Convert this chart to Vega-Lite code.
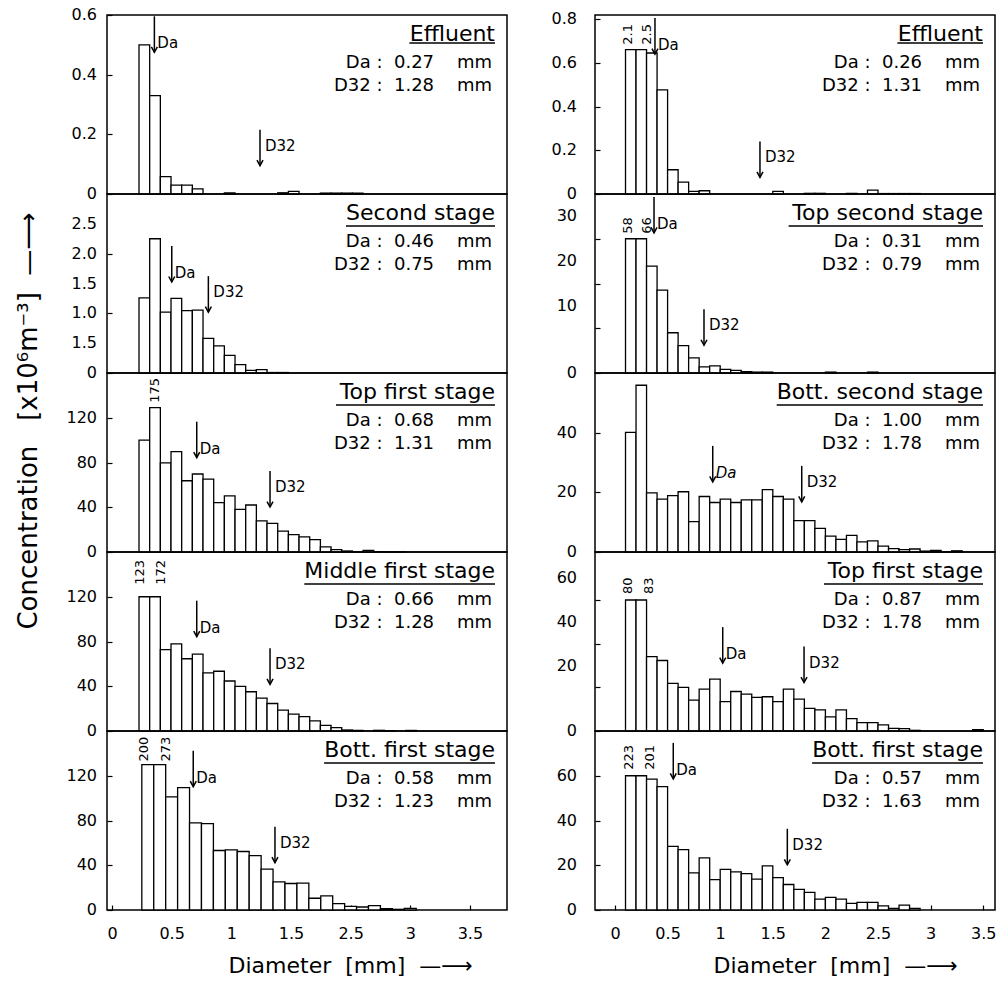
{
"$schema":"https://vega.github.io/schema/vega-lite/v6.json",
"padding":{"left":14,"top":6,"right":2,"bottom":2},
"config":{"font":"DejaVu Sans","view":{"stroke":"black","strokeWidth":1.5},"mark":{"color":"black"},
"axis":{"domain":false,"grid":false,"ticks":true,"tickSize":-5,"tickColor":"black","tickWidth":1.2,"labelFontSize":16,"labelColor":"black","labelFont":"DejaVu Sans","titleFont":"DejaVu Sans","titleFontSize":22,"titleFontWeight":"normal","titleColor":"black","labelFlush":false,"labelOverlap":false,"labelBound":false},
"axisX":{"labelPadding":20}},
"datasets":{
"yticks":[
{"p":"L1","v":0,"lab":"0"},{"p":"L1","v":0.2,"lab":"0.2"},{"p":"L1","v":0.4,"lab":"0.4"},{"p":"L1","v":0.6,"lab":"0.6"},
{"p":"L2","v":0,"lab":"0"},{"p":"L2","v":0.5,"lab":"1.5"},{"p":"L2","v":1,"lab":"1.0"},{"p":"L2","v":1.5,"lab":"1.5"},{"p":"L2","v":2,"lab":"2.0"},{"p":"L2","v":2.5,"lab":"2.5"},
{"p":"L3","v":0,"lab":"0"},{"p":"L3","v":40,"lab":"40"},{"p":"L3","v":80,"lab":"80"},{"p":"L3","v":120,"lab":"120"},
{"p":"L4","v":0,"lab":"0"},{"p":"L4","v":40,"lab":"40"},{"p":"L4","v":80,"lab":"80"},{"p":"L4","v":120,"lab":"120"},
{"p":"L5","v":0,"lab":"0"},{"p":"L5","v":40,"lab":"40"},{"p":"L5","v":80,"lab":"80"},{"p":"L5","v":120,"lab":"120"},
{"p":"R1","v":0,"lab":"0"},{"p":"R1","v":0.2,"lab":"0.2"},{"p":"R1","v":0.4,"lab":"0.4"},{"p":"R1","v":0.6,"lab":"0.6"},{"p":"R1","v":0.8,"lab":"0.8"},
{"p":"R2","v":0,"lab":"0"},{"p":"R2","v":15,"lab":"10"},{"p":"R2","v":25,"lab":"20"},{"p":"R2","v":35,"lab":"30"},
{"p":"R3","v":0,"lab":"0"},{"p":"R3","v":20,"lab":"20"},{"p":"R3","v":40,"lab":"40"},
{"p":"R4","v":0,"lab":"0"},{"p":"R4","v":30,"lab":"20"},{"p":"R4","v":50,"lab":"40"},{"p":"R4","v":70,"lab":"60"},
{"p":"R5","v":0,"lab":"0"},{"p":"R5","v":20,"lab":"20"},{"p":"R5","v":40,"lab":"40"},{"p":"R5","v":60,"lab":"60"}
],
"bars":[
{"p":"L1","x0":0.1,"x1":0.2,"c":0.5},{"p":"L1","x0":0.2,"x1":0.3,"c":0.33},{"p":"L1","x0":0.3,"x1":0.4,"c":0.058},{"p":"L1","x0":0.4,"x1":0.5,"c":0.03},{"p":"L1","x0":0.5,"x1":0.6,"c":0.03},{"p":"L1","x0":0.6,"x1":0.7,"c":0.017},{"p":"L1","x0":0.9,"x1":1.0,"c":0.004},{"p":"L1","x0":1.4,"x1":1.5,"c":0.004},{"p":"L1","x0":1.5,"x1":1.6,"c":0.009},{"p":"L1","x0":1.8,"x1":1.9,"c":0.003},{"p":"L1","x0":1.9,"x1":2.0,"c":0.003},{"p":"L1","x0":2.0,"x1":2.1,"c":0.003},{"p":"L1","x0":2.1,"x1":2.2,"c":0.003},
{"p":"L2","x0":0.1,"x1":0.2,"c":1.26},{"p":"L2","x0":0.2,"x1":0.3,"c":2.25},{"p":"L2","x0":0.3,"x1":0.4,"c":1.02},{"p":"L2","x0":0.4,"x1":0.5,"c":1.25},{"p":"L2","x0":0.5,"x1":0.6,"c":1.045},{"p":"L2","x0":0.6,"x1":0.7,"c":1.055},{"p":"L2","x0":0.7,"x1":0.8,"c":0.58},{"p":"L2","x0":0.8,"x1":0.9,"c":0.455},{"p":"L2","x0":0.9,"x1":1.0,"c":0.295},{"p":"L2","x0":1.0,"x1":1.1,"c":0.14},{"p":"L2","x0":1.1,"x1":1.2,"c":0.045},{"p":"L2","x0":1.2,"x1":1.3,"c":0.055},{"p":"L2","x0":1.3,"x1":1.4,"c":0.008},{"p":"L2","x0":1.4,"x1":1.5,"c":0.008},
{"p":"L3","x0":0.1,"x1":0.2,"c":100},{"p":"L3","x0":0.2,"x1":0.3,"c":129,"n":"175"},{"p":"L3","x0":0.3,"x1":0.4,"c":79.6},{"p":"L3","x0":0.4,"x1":0.5,"c":89.8},{"p":"L3","x0":0.5,"x1":0.6,"c":63.7},{"p":"L3","x0":0.6,"x1":0.7,"c":69.7},{"p":"L3","x0":0.7,"x1":0.8,"c":65.2},{"p":"L3","x0":0.8,"x1":0.9,"c":44.1},{"p":"L3","x0":0.9,"x1":1.0,"c":50.2},{"p":"L3","x0":1.0,"x1":1.1,"c":38.1},{"p":"L3","x0":1.1,"x1":1.2,"c":42},{"p":"L3","x0":1.2,"x1":1.3,"c":27.9},{"p":"L3","x0":1.3,"x1":1.4,"c":25.5},{"p":"L3","x0":1.4,"x1":1.5,"c":18.6},{"p":"L3","x0":1.5,"x1":1.6,"c":15.6},{"p":"L3","x0":1.6,"x1":1.7,"c":13.5},{"p":"L3","x0":1.7,"x1":1.8,"c":11.1},{"p":"L3","x0":1.8,"x1":1.9,"c":4.5},{"p":"L3","x0":1.9,"x1":2.0,"c":2.1},{"p":"L3","x0":2.0,"x1":2.1,"c":0.9},{"p":"L3","x0":2.1,"x1":2.2,"c":0.3},{"p":"L3","x0":2.2,"x1":2.3,"c":1.5},{"p":"L3","x0":2.3,"x1":2.4,"c":0.3},{"p":"L3","x0":2.4,"x1":2.5,"c":0.2},{"p":"L3","x0":2.5,"x1":2.6,"c":0.2},
{"p":"L4","x0":0.1,"x1":0.2,"c":120,"n":"123"},{"p":"L4","x0":0.2,"x1":0.3,"c":120,"n":"172"},{"p":"L4","x0":0.3,"x1":0.4,"c":72.7},{"p":"L4","x0":0.4,"x1":0.5,"c":77.8},{"p":"L4","x0":0.5,"x1":0.6,"c":64.6},{"p":"L4","x0":0.6,"x1":0.7,"c":68.8},{"p":"L4","x0":0.7,"x1":0.8,"c":52},{"p":"L4","x0":0.8,"x1":0.9,"c":53.4},{"p":"L4","x0":0.9,"x1":1.0,"c":44.7},{"p":"L4","x0":1.0,"x1":1.1,"c":39.9},{"p":"L4","x0":1.1,"x1":1.2,"c":35.1},{"p":"L4","x0":1.2,"x1":1.3,"c":29.4},{"p":"L4","x0":1.3,"x1":1.4,"c":24.6},{"p":"L4","x0":1.4,"x1":1.5,"c":18.6},{"p":"L4","x0":1.5,"x1":1.6,"c":15},{"p":"L4","x0":1.6,"x1":1.7,"c":12.9},{"p":"L4","x0":1.7,"x1":1.8,"c":9},{"p":"L4","x0":1.8,"x1":1.9,"c":5.1},{"p":"L4","x0":1.9,"x1":2.0,"c":3},{"p":"L4","x0":2.0,"x1":2.1,"c":0.9},{"p":"L4","x0":2.1,"x1":2.2,"c":0.6},{"p":"L4","x0":2.3,"x1":2.4,"c":0.6},{"p":"L4","x0":2.4,"x1":2.5,"c":0.3},{"p":"L4","x0":2.6,"x1":2.7,"c":0.5},
{"p":"L5","x0":0.25,"x1":0.35,"c":130,"n":"200"},{"p":"L5","x0":0.35,"x1":0.45,"c":130,"n":"273"},{"p":"L5","x0":0.45,"x1":0.55,"c":101.2},{"p":"L5","x0":0.55,"x1":0.65,"c":109.3},{"p":"L5","x0":0.65,"x1":0.75,"c":77.8},{"p":"L5","x0":0.75,"x1":0.85,"c":77.2},{"p":"L5","x0":0.85,"x1":0.95,"c":53.2},{"p":"L5","x0":0.95,"x1":1.05,"c":53.8},{"p":"L5","x0":1.05,"x1":1.15,"c":52.3},{"p":"L5","x0":1.15,"x1":1.25,"c":48.6},{"p":"L5","x0":1.25,"x1":1.35,"c":36.6},{"p":"L5","x0":1.35,"x1":1.45,"c":25.2},{"p":"L5","x0":1.45,"x1":1.55,"c":23.7},{"p":"L5","x0":1.55,"x1":1.65,"c":24},{"p":"L5","x0":1.65,"x1":1.75,"c":10.5},{"p":"L5","x0":1.75,"x1":1.85,"c":12.6},{"p":"L5","x0":1.85,"x1":1.95,"c":5.7},{"p":"L5","x0":1.95,"x1":2.05,"c":3.3},{"p":"L5","x0":2.05,"x1":2.15,"c":2.7},{"p":"L5","x0":2.15,"x1":2.25,"c":3.9},{"p":"L5","x0":2.25,"x1":2.35,"c":1.2},{"p":"L5","x0":2.35,"x1":2.45,"c":0.6},{"p":"L5","x0":2.45,"x1":2.55,"c":1.5},
{"p":"R1","x0":0.1,"x1":0.2,"c":0.661,"n":"2.1"},{"p":"R1","x0":0.2,"x1":0.3,"c":0.661,"n":"2.5"},{"p":"R1","x0":0.3,"x1":0.4,"c":0.646},{"p":"R1","x0":0.4,"x1":0.5,"c":0.477},{"p":"R1","x0":0.5,"x1":0.6,"c":0.111},{"p":"R1","x0":0.6,"x1":0.7,"c":0.054},{"p":"R1","x0":0.7,"x1":0.8,"c":0.012},{"p":"R1","x0":0.8,"x1":0.9,"c":0.015},{"p":"R1","x0":1.5,"x1":1.6,"c":0.012},{"p":"R1","x0":1.8,"x1":1.9,"c":0.003},{"p":"R1","x0":1.9,"x1":2.0,"c":0.003},{"p":"R1","x0":2.2,"x1":2.3,"c":0.003},{"p":"R1","x0":2.4,"x1":2.5,"c":0.018},{"p":"R1","x0":2.5,"x1":2.6,"c":0.002},{"p":"R1","x0":2.6,"x1":2.7,"c":0.002},{"p":"R1","x0":2.7,"x1":2.8,"c":0.002},{"p":"R1","x0":2.8,"x1":2.9,"c":0.002},
{"p":"R2","x0":0.1,"x1":0.2,"c":30,"n":"58"},{"p":"R2","x0":0.2,"x1":0.3,"c":30,"n":"66"},{"p":"R2","x0":0.3,"x1":0.4,"c":23.9},{"p":"R2","x0":0.4,"x1":0.5,"c":18.5},{"p":"R2","x0":0.5,"x1":0.6,"c":9.0},{"p":"R2","x0":0.6,"x1":0.7,"c":6.1},{"p":"R2","x0":0.7,"x1":0.8,"c":3.4},{"p":"R2","x0":0.8,"x1":0.9,"c":1.35},{"p":"R2","x0":0.9,"x1":1.0,"c":1.6},{"p":"R2","x0":1.0,"x1":1.1,"c":0.8},{"p":"R2","x0":1.1,"x1":1.2,"c":0.6},{"p":"R2","x0":1.2,"x1":1.3,"c":0.3},{"p":"R2","x0":1.3,"x1":1.4,"c":0.2},{"p":"R2","x0":1.4,"x1":1.5,"c":0.2},{"p":"R2","x0":2.0,"x1":2.1,"c":0.2},{"p":"R2","x0":2.4,"x1":2.5,"c":0.2},
{"p":"R3","x0":0.1,"x1":0.2,"c":40.1},{"p":"R3","x0":0.2,"x1":0.3,"c":55.9},{"p":"R3","x0":0.3,"x1":0.4,"c":19.8},{"p":"R3","x0":0.4,"x1":0.5,"c":17.7},{"p":"R3","x0":0.5,"x1":0.6,"c":18.9},{"p":"R3","x0":0.6,"x1":0.7,"c":20.2},{"p":"R3","x0":0.7,"x1":0.8,"c":10.2},{"p":"R3","x0":0.8,"x1":0.9,"c":18.6},{"p":"R3","x0":0.9,"x1":1.0,"c":16.6},{"p":"R3","x0":1.0,"x1":1.1,"c":17.7},{"p":"R3","x0":1.1,"x1":1.2,"c":16.6},{"p":"R3","x0":1.2,"x1":1.3,"c":17.5},{"p":"R3","x0":1.3,"x1":1.4,"c":17.5},{"p":"R3","x0":1.4,"x1":1.5,"c":20.9},{"p":"R3","x0":1.5,"x1":1.6,"c":18.6},{"p":"R3","x0":1.6,"x1":1.7,"c":17.7},{"p":"R3","x0":1.7,"x1":1.8,"c":10.5},{"p":"R3","x0":1.8,"x1":1.9,"c":10.5},{"p":"R3","x0":1.9,"x1":2.0,"c":7.9},{"p":"R3","x0":2.0,"x1":2.1,"c":5.3},{"p":"R3","x0":2.1,"x1":2.2,"c":4.2},{"p":"R3","x0":2.2,"x1":2.3,"c":5.6},{"p":"R3","x0":2.3,"x1":2.4,"c":3.4},{"p":"R3","x0":2.4,"x1":2.5,"c":3.7},{"p":"R3","x0":2.5,"x1":2.6,"c":2.0},{"p":"R3","x0":2.6,"x1":2.7,"c":1.1},{"p":"R3","x0":2.7,"x1":2.8,"c":0.8},{"p":"R3","x0":2.8,"x1":2.9,"c":1.0},{"p":"R3","x0":2.9,"x1":3.0,"c":0.3},{"p":"R3","x0":3.0,"x1":3.1,"c":0.5},{"p":"R3","x0":3.1,"x1":3.2,"c":0.1},{"p":"R3","x0":3.2,"x1":3.3,"c":0.4},
{"p":"R4","x0":0.1,"x1":0.2,"c":60,"n":"80"},{"p":"R4","x0":0.2,"x1":0.3,"c":60,"n":"83"},{"p":"R4","x0":0.3,"x1":0.4,"c":34.1},{"p":"R4","x0":0.4,"x1":0.5,"c":32.3},{"p":"R4","x0":0.5,"x1":0.6,"c":21.8},{"p":"R4","x0":0.6,"x1":0.7,"c":20},{"p":"R4","x0":0.7,"x1":0.8,"c":14.1},{"p":"R4","x0":0.8,"x1":0.9,"c":19.2},{"p":"R4","x0":0.9,"x1":1.0,"c":23.8},{"p":"R4","x0":1.0,"x1":1.1,"c":13.5},{"p":"R4","x0":1.1,"x1":1.2,"c":18.1},{"p":"R4","x0":1.2,"x1":1.3,"c":16.9},{"p":"R4","x0":1.3,"x1":1.4,"c":15.4},{"p":"R4","x0":1.4,"x1":1.5,"c":15.7},{"p":"R4","x0":1.5,"x1":1.6,"c":13.5},{"p":"R4","x0":1.6,"x1":1.7,"c":19.2},{"p":"R4","x0":1.7,"x1":1.8,"c":14.6},{"p":"R4","x0":1.8,"x1":1.9,"c":10.4},{"p":"R4","x0":1.9,"x1":2.0,"c":9.7},{"p":"R4","x0":2.0,"x1":2.1,"c":6.5},{"p":"R4","x0":2.1,"x1":2.2,"c":9.7},{"p":"R4","x0":2.2,"x1":2.3,"c":5.7},{"p":"R4","x0":2.3,"x1":2.4,"c":3.8},{"p":"R4","x0":2.4,"x1":2.5,"c":3.8},{"p":"R4","x0":2.5,"x1":2.6,"c":2.8},{"p":"R4","x0":2.6,"x1":2.7,"c":1.2},{"p":"R4","x0":2.7,"x1":2.8,"c":1.1},{"p":"R4","x0":2.8,"x1":2.9,"c":0.3},{"p":"R4","x0":3.4,"x1":3.5,"c":0.6},
{"p":"R5","x0":0.1,"x1":0.2,"c":60,"n":"223"},{"p":"R5","x0":0.2,"x1":0.3,"c":60,"n":"201"},{"p":"R5","x0":0.3,"x1":0.4,"c":58.5},{"p":"R5","x0":0.4,"x1":0.5,"c":55.1},{"p":"R5","x0":0.5,"x1":0.6,"c":28.4},{"p":"R5","x0":0.6,"x1":0.7,"c":27},{"p":"R5","x0":0.7,"x1":0.8,"c":16.6},{"p":"R5","x0":0.8,"x1":0.9,"c":23.3},{"p":"R5","x0":0.9,"x1":1.0,"c":13.6},{"p":"R5","x0":1.0,"x1":1.1,"c":18.2},{"p":"R5","x0":1.1,"x1":1.2,"c":17},{"p":"R5","x0":1.2,"x1":1.3,"c":16.3},{"p":"R5","x0":1.3,"x1":1.4,"c":13.8},{"p":"R5","x0":1.4,"x1":1.5,"c":19.7},{"p":"R5","x0":1.5,"x1":1.6,"c":14.5},{"p":"R5","x0":1.6,"x1":1.7,"c":11.4},{"p":"R5","x0":1.7,"x1":1.8,"c":9.2},{"p":"R5","x0":1.8,"x1":1.9,"c":7.9},{"p":"R5","x0":1.9,"x1":2.0,"c":4.9},{"p":"R5","x0":2.0,"x1":2.1,"c":5.6},{"p":"R5","x0":2.1,"x1":2.2,"c":4.9},{"p":"R5","x0":2.2,"x1":2.3,"c":3.0},{"p":"R5","x0":2.3,"x1":2.4,"c":3.4},{"p":"R5","x0":2.4,"x1":2.5,"c":3.4},{"p":"R5","x0":2.5,"x1":2.6,"c":1.8},{"p":"R5","x0":2.6,"x1":2.7,"c":0.7},{"p":"R5","x0":2.7,"x1":2.8,"c":2.2},{"p":"R5","x0":2.8,"x1":2.9,"c":0.7}
],
"arrows":[
{"p":"L1","k":"Da","ax":0.244,"yb":0.475},{"p":"L1","k":"D32","ax":1.234,"yb":0.095},
{"p":"L2","k":"Da","ax":0.407,"yb":1.525},{"p":"L2","k":"D32","ax":0.75,"yb":1.02},
{"p":"L3","k":"Da","ax":0.641,"yb":84.3},{"p":"L3","k":"D32","ax":1.328,"yb":40.2},
{"p":"L4","k":"Da","ax":0.641,"yb":84.3},{"p":"L4","k":"D32","ax":1.328,"yb":41.7},
{"p":"L5","k":"Da","ax":0.681,"yb":110.2},{"p":"L5","k":"D32","ax":1.366,"yb":42.3},
{"p":"R1","k":"Da","ax":0.38,"yb":0.641},{"p":"R1","k":"D32","ax":1.378,"yb":0.076},
{"p":"R2","k":"Da","ax":0.371,"yb":31.3},{"p":"R2","k":"D32","ax":0.846,"yb":6.2},
{"p":"R3","k":"Da","ax":0.929,"yb":23.5},{"p":"R3","k":"D32","ax":1.775,"yb":16.8},
{"p":"R4","k":"Da","ax":1.024,"yb":31.1},{"p":"R4","k":"D32","ax":1.797,"yb":22.2},
{"p":"R5","k":"Da","ax":0.554,"yb":58.6},{"p":"R5","k":"D32","ax":1.638,"yb":20.2}
],
"info":[
{"p":"L1","t":"Effluent","a":"Da :\u00a0\u00a00.27\u00a0\u00a0\u00a0\u00a0mm","b":"D32 :\u00a0\u00a01.28\u00a0\u00a0\u00a0\u00a0mm"},
{"p":"L2","t":"Second stage","a":"Da :\u00a0\u00a00.46\u00a0\u00a0\u00a0\u00a0mm","b":"D32 :\u00a0\u00a00.75\u00a0\u00a0\u00a0\u00a0mm"},
{"p":"L3","t":"Top first stage","a":"Da :\u00a0\u00a00.68\u00a0\u00a0\u00a0\u00a0mm","b":"D32 :\u00a0\u00a01.31\u00a0\u00a0\u00a0\u00a0mm"},
{"p":"L4","t":"Middle first stage","a":"Da :\u00a0\u00a00.66\u00a0\u00a0\u00a0\u00a0mm","b":"D32 :\u00a0\u00a01.28\u00a0\u00a0\u00a0\u00a0mm"},
{"p":"L5","t":"Bott. first stage","a":"Da :\u00a0\u00a00.58\u00a0\u00a0\u00a0\u00a0mm","b":"D32 :\u00a0\u00a01.23\u00a0\u00a0\u00a0\u00a0mm"},
{"p":"R1","t":"Effluent","a":"Da :\u00a0\u00a00.26\u00a0\u00a0\u00a0\u00a0mm","b":"D32 :\u00a0\u00a01.31\u00a0\u00a0\u00a0\u00a0mm"},
{"p":"R2","t":"Top second stage","a":"Da :\u00a0\u00a00.31\u00a0\u00a0\u00a0\u00a0mm","b":"D32 :\u00a0\u00a00.79\u00a0\u00a0\u00a0\u00a0mm"},
{"p":"R3","t":"Bott. second stage","a":"Da :\u00a0\u00a01.00\u00a0\u00a0\u00a0\u00a0mm","b":"D32 :\u00a0\u00a01.78\u00a0\u00a0\u00a0\u00a0mm"},
{"p":"R4","t":"Top first stage","a":"Da :\u00a0\u00a00.87\u00a0\u00a0\u00a0\u00a0mm","b":"D32 :\u00a0\u00a01.78\u00a0\u00a0\u00a0\u00a0mm"},
{"p":"R5","t":"Bott. first stage","a":"Da :\u00a0\u00a00.57\u00a0\u00a0\u00a0\u00a0mm","b":"D32 :\u00a0\u00a01.63\u00a0\u00a0\u00a0\u00a0mm"}
]
},
"columns":2,
"spacing":{"row":0,"column":88},
"bounds":"flush",
"concat":[
{"width":400,"height":179,"layer":[
{"data":{"name":"bars"},"transform":[{"filter":"datum.p=='L1'"}],"mark":{"type":"rect","fill":"white","stroke":"black","strokeWidth":1.3},"encoding":{"x":{"field":"x0","type":"quantitative","scale":{"domain":[-0.2,3.549],"nice":false,"zero":false},"axis":null},"x2":{"field":"x1"},"y":{"field":"c","type":"quantitative","scale":{"domain":[0,0.6],"nice":false},"axis":{"values":[0,0.1,0.2,0.3,0.4,0.5,0.6],"labels":false,"title":null}},"y2":{"datum":0}}},
{"data":{"name":"yticks"},"transform":[{"filter":"datum.p=='L1'"}],"mark":{"type":"text","align":"right","baseline":"middle","dx":-10,"fontSize":16},"encoding":{"x":{"datum":-0.2,"axis":null},"y":{"field":"v","type":"quantitative"},"text":{"field":"lab"}}},
{"data":{"name":"arrows"},"transform":[{"filter":"datum.p=='L1'"}],"mark":{"type":"rule","y2Offset":-36,"strokeWidth":1.5,"color":"black"},"encoding":{"x":{"field":"ax","type":"quantitative","axis":null},"y":{"field":"yb","type":"quantitative"},"y2":{"field":"yb"}}},
{"data":{"name":"arrows"},"transform":[{"filter":"datum.p=='L1'"}],"mark":{"type":"point","shape":"M-0.6,-1.1L0,0L0.6,-1.1","filled":false,"size":100,"color":"black","strokeWidth":1.5,"opacity":1},"encoding":{"x":{"field":"ax","type":"quantitative","axis":null},"y":{"field":"yb","type":"quantitative"}}},
{"data":{"name":"arrows"},"transform":[{"filter":"datum.p=='L1' && datum.k=='Da'"}],"mark":{"type":"text","align":"left","baseline":"middle","dx":3,"dy":-9,"fontSize":15},"encoding":{"x":{"field":"ax","type":"quantitative","axis":null},"y":{"field":"yb","type":"quantitative"},"text":{"field":"k"}}},
{"data":{"name":"arrows"},"transform":[{"filter":"datum.p=='L1' && datum.k=='D32'"}],"mark":{"type":"text","align":"left","baseline":"middle","dx":5,"dy":-20,"fontSize":15},"encoding":{"x":{"field":"ax","type":"quantitative","axis":null},"y":{"field":"yb","type":"quantitative"},"text":{"field":"k"}}},
{"data":{"name":"info"},"transform":[{"filter":"datum.p=='L1'"}],"mark":{"type":"text","align":"right","baseline":"alphabetic","dx":-12,"dy":26,"fontSize":22},"encoding":{"x":{"datum":3.549,"axis":null},"y":{"datum":0.6},"text":{"field":"t"}}},
{"data":{"name":"info"},"transform":[{"filter":"datum.p=='L1'"}],"mark":{"type":"text","align":"right","baseline":"alphabetic","dx":-15,"dy":53,"fontSize":18},"encoding":{"x":{"datum":3.549,"axis":null},"y":{"datum":0.6},"text":{"field":"a"}}},
{"data":{"name":"info"},"transform":[{"filter":"datum.p=='L1'"}],"mark":{"type":"text","align":"right","baseline":"alphabetic","dx":-15,"dy":76,"fontSize":18},"encoding":{"x":{"datum":3.549,"axis":null},"y":{"datum":0.6},"text":{"field":"b"}}},
{"data":{"name":"info"},"transform":[{"filter":"datum.p=='L1'"}],"mark":{"type":"rule","xOffset":-97.6,"x2Offset":-12,"yOffset":28,"strokeWidth":1.3,"color":"black"},"encoding":{"x":{"datum":3.549,"axis":null},"x2":{"datum":3.549},"y":{"datum":0.6}}}
]},
{"width":400,"height":179,"layer":[
{"data":{"name":"bars"},"transform":[{"filter":"datum.p=='R1'"}],"mark":{"type":"rect","fill":"white","stroke":"black","strokeWidth":1.3},"encoding":{"x":{"field":"x0","type":"quantitative","scale":{"domain":[-0.19,3.612],"nice":false,"zero":false},"axis":null},"x2":{"field":"x1"},"y":{"field":"c","type":"quantitative","scale":{"domain":[0,0.82],"nice":false},"axis":{"values":[0,0.1,0.2,0.3,0.4,0.5,0.6,0.7,0.8],"labels":false,"title":null}},"y2":{"datum":0}}},
{"data":{"name":"yticks"},"transform":[{"filter":"datum.p=='R1'"}],"mark":{"type":"text","align":"right","baseline":"middle","dx":-18,"fontSize":16},"encoding":{"x":{"datum":-0.19,"axis":null},"y":{"field":"v","type":"quantitative"},"text":{"field":"lab"}}},
{"data":{"name":"bars"},"transform":[{"filter":"datum.p=='R1' && datum.x0==0.1"}],"mark":{"type":"text","angle":270,"align":"left","baseline":"middle","dx":5,"dy":2,"fontSize":13},"encoding":{"x":{"field":"x0","type":"quantitative","axis":null},"y":{"field":"c","type":"quantitative"},"text":{"field":"n"}}},
{"data":{"name":"bars"},"transform":[{"filter":"datum.p=='R1' && datum.x0==0.2"}],"mark":{"type":"text","angle":270,"align":"left","baseline":"middle","dx":5,"dy":0,"fontSize":13},"encoding":{"x":{"field":"x1","type":"quantitative","axis":null},"y":{"field":"c","type":"quantitative"},"text":{"field":"n"}}},
{"data":{"name":"arrows"},"transform":[{"filter":"datum.p=='R1'"}],"mark":{"type":"rule","y2Offset":-36,"strokeWidth":1.5,"color":"black"},"encoding":{"x":{"field":"ax","type":"quantitative","axis":null},"y":{"field":"yb","type":"quantitative"},"y2":{"field":"yb"}}},
{"data":{"name":"arrows"},"transform":[{"filter":"datum.p=='R1'"}],"mark":{"type":"point","shape":"M-0.6,-1.1L0,0L0.6,-1.1","filled":false,"size":100,"color":"black","strokeWidth":1.5,"opacity":1},"encoding":{"x":{"field":"ax","type":"quantitative","axis":null},"y":{"field":"yb","type":"quantitative"}}},
{"data":{"name":"arrows"},"transform":[{"filter":"datum.p=='R1' && datum.k=='Da'"}],"mark":{"type":"text","align":"left","baseline":"middle","dx":3,"dy":-9,"fontSize":15},"encoding":{"x":{"field":"ax","type":"quantitative","axis":null},"y":{"field":"yb","type":"quantitative"},"text":{"field":"k"}}},
{"data":{"name":"arrows"},"transform":[{"filter":"datum.p=='R1' && datum.k=='D32'"}],"mark":{"type":"text","align":"left","baseline":"middle","dx":5,"dy":-20,"fontSize":15},"encoding":{"x":{"field":"ax","type":"quantitative","axis":null},"y":{"field":"yb","type":"quantitative"},"text":{"field":"k"}}},
{"data":{"name":"info"},"transform":[{"filter":"datum.p=='R1'"}],"mark":{"type":"text","align":"right","baseline":"alphabetic","dx":-12,"dy":26,"fontSize":22},"encoding":{"x":{"datum":3.612,"axis":null},"y":{"datum":0.82},"text":{"field":"t"}}},
{"data":{"name":"info"},"transform":[{"filter":"datum.p=='R1'"}],"mark":{"type":"text","align":"right","baseline":"alphabetic","dx":-15,"dy":53,"fontSize":18},"encoding":{"x":{"datum":3.612,"axis":null},"y":{"datum":0.82},"text":{"field":"a"}}},
{"data":{"name":"info"},"transform":[{"filter":"datum.p=='R1'"}],"mark":{"type":"text","align":"right","baseline":"alphabetic","dx":-15,"dy":76,"fontSize":18},"encoding":{"x":{"datum":3.612,"axis":null},"y":{"datum":0.82},"text":{"field":"b"}}},
{"data":{"name":"info"},"transform":[{"filter":"datum.p=='R1'"}],"mark":{"type":"rule","xOffset":-97.6,"x2Offset":-12,"yOffset":28,"strokeWidth":1.3,"color":"black"},"encoding":{"x":{"datum":3.612,"axis":null},"x2":{"datum":3.612},"y":{"datum":0.82}}}
]},
{"width":400,"height":179,"layer":[
{"data":{"name":"bars"},"transform":[{"filter":"datum.p=='L2'"}],"mark":{"type":"rect","fill":"white","stroke":"black","strokeWidth":1.3},"encoding":{"x":{"field":"x0","type":"quantitative","scale":{"domain":[-0.2,3.549],"nice":false,"zero":false},"axis":null},"x2":{"field":"x1"},"y":{"field":"c","type":"quantitative","scale":{"domain":[0,3],"nice":false},"axis":{"values":[0,0.5,1,1.5,2,2.5],"labels":false,"title":null}},"y2":{"datum":0}}},
{"data":{"name":"yticks"},"transform":[{"filter":"datum.p=='L2'"}],"mark":{"type":"text","align":"right","baseline":"middle","dx":-10,"fontSize":16},"encoding":{"x":{"datum":-0.2,"axis":null},"y":{"field":"v","type":"quantitative"},"text":{"field":"lab"}}},
{"data":{"name":"arrows"},"transform":[{"filter":"datum.p=='L2'"}],"mark":{"type":"rule","y2Offset":-36,"strokeWidth":1.5,"color":"black"},"encoding":{"x":{"field":"ax","type":"quantitative","axis":null},"y":{"field":"yb","type":"quantitative"},"y2":{"field":"yb"}}},
{"data":{"name":"arrows"},"transform":[{"filter":"datum.p=='L2'"}],"mark":{"type":"point","shape":"M-0.6,-1.1L0,0L0.6,-1.1","filled":false,"size":100,"color":"black","strokeWidth":1.5,"opacity":1},"encoding":{"x":{"field":"ax","type":"quantitative","axis":null},"y":{"field":"yb","type":"quantitative"}}},
{"data":{"name":"arrows"},"transform":[{"filter":"datum.p=='L2' && datum.k=='Da'"}],"mark":{"type":"text","align":"left","baseline":"middle","dx":3,"dy":-9,"fontSize":15},"encoding":{"x":{"field":"ax","type":"quantitative","axis":null},"y":{"field":"yb","type":"quantitative"},"text":{"field":"k"}}},
{"data":{"name":"arrows"},"transform":[{"filter":"datum.p=='L2' && datum.k=='D32'"}],"mark":{"type":"text","align":"left","baseline":"middle","dx":5,"dy":-20,"fontSize":15},"encoding":{"x":{"field":"ax","type":"quantitative","axis":null},"y":{"field":"yb","type":"quantitative"},"text":{"field":"k"}}},
{"data":{"name":"info"},"transform":[{"filter":"datum.p=='L2'"}],"mark":{"type":"text","align":"right","baseline":"alphabetic","dx":-12,"dy":26,"fontSize":22},"encoding":{"x":{"datum":3.549,"axis":null},"y":{"datum":3},"text":{"field":"t"}}},
{"data":{"name":"info"},"transform":[{"filter":"datum.p=='L2'"}],"mark":{"type":"text","align":"right","baseline":"alphabetic","dx":-15,"dy":53,"fontSize":18},"encoding":{"x":{"datum":3.549,"axis":null},"y":{"datum":3},"text":{"field":"a"}}},
{"data":{"name":"info"},"transform":[{"filter":"datum.p=='L2'"}],"mark":{"type":"text","align":"right","baseline":"alphabetic","dx":-15,"dy":76,"fontSize":18},"encoding":{"x":{"datum":3.549,"axis":null},"y":{"datum":3},"text":{"field":"b"}}},
{"data":{"name":"info"},"transform":[{"filter":"datum.p=='L2'"}],"mark":{"type":"rule","xOffset":-161,"x2Offset":-12,"yOffset":32,"strokeWidth":1.3,"color":"black"},"encoding":{"x":{"datum":3.549,"axis":null},"x2":{"datum":3.549},"y":{"datum":3}}}
]},
{"width":400,"height":179,"layer":[
{"data":{"name":"bars"},"transform":[{"filter":"datum.p=='R2'"}],"mark":{"type":"rect","fill":"white","stroke":"black","strokeWidth":1.3},"encoding":{"x":{"field":"x0","type":"quantitative","scale":{"domain":[-0.19,3.612],"nice":false,"zero":false},"axis":null},"x2":{"field":"x1"},"y":{"field":"c","type":"quantitative","scale":{"domain":[0,40],"nice":false},"axis":{"values":[0,5,10,15,20,25,30,35],"labels":false,"title":null}},"y2":{"datum":0}}},
{"data":{"name":"yticks"},"transform":[{"filter":"datum.p=='R2'"}],"mark":{"type":"text","align":"right","baseline":"middle","dx":-18,"fontSize":16},"encoding":{"x":{"datum":-0.19,"axis":null},"y":{"field":"v","type":"quantitative"},"text":{"field":"lab"}}},
{"data":{"name":"bars"},"transform":[{"filter":"datum.p=='R2' && datum.x0==0.1"}],"mark":{"type":"text","angle":270,"align":"left","baseline":"middle","dx":5,"dy":2,"fontSize":13},"encoding":{"x":{"field":"x0","type":"quantitative","axis":null},"y":{"field":"c","type":"quantitative"},"text":{"field":"n"}}},
{"data":{"name":"bars"},"transform":[{"filter":"datum.p=='R2' && datum.x0==0.2"}],"mark":{"type":"text","angle":270,"align":"left","baseline":"middle","dx":5,"dy":0,"fontSize":13},"encoding":{"x":{"field":"x1","type":"quantitative","axis":null},"y":{"field":"c","type":"quantitative"},"text":{"field":"n"}}},
{"data":{"name":"arrows"},"transform":[{"filter":"datum.p=='R2'"}],"mark":{"type":"rule","y2Offset":-36,"strokeWidth":1.5,"color":"black"},"encoding":{"x":{"field":"ax","type":"quantitative","axis":null},"y":{"field":"yb","type":"quantitative"},"y2":{"field":"yb"}}},
{"data":{"name":"arrows"},"transform":[{"filter":"datum.p=='R2'"}],"mark":{"type":"point","shape":"M-0.6,-1.1L0,0L0.6,-1.1","filled":false,"size":100,"color":"black","strokeWidth":1.5,"opacity":1},"encoding":{"x":{"field":"ax","type":"quantitative","axis":null},"y":{"field":"yb","type":"quantitative"}}},
{"data":{"name":"arrows"},"transform":[{"filter":"datum.p=='R2' && datum.k=='Da'"}],"mark":{"type":"text","align":"left","baseline":"middle","dx":3,"dy":-9,"fontSize":15},"encoding":{"x":{"field":"ax","type":"quantitative","axis":null},"y":{"field":"yb","type":"quantitative"},"text":{"field":"k"}}},
{"data":{"name":"arrows"},"transform":[{"filter":"datum.p=='R2' && datum.k=='D32'"}],"mark":{"type":"text","align":"left","baseline":"middle","dx":5,"dy":-20,"fontSize":15},"encoding":{"x":{"field":"ax","type":"quantitative","axis":null},"y":{"field":"yb","type":"quantitative"},"text":{"field":"k"}}},
{"data":{"name":"info"},"transform":[{"filter":"datum.p=='R2'"}],"mark":{"type":"text","align":"right","baseline":"alphabetic","dx":-12,"dy":26,"fontSize":22},"encoding":{"x":{"datum":3.612,"axis":null},"y":{"datum":40},"text":{"field":"t"}}},
{"data":{"name":"info"},"transform":[{"filter":"datum.p=='R2'"}],"mark":{"type":"text","align":"right","baseline":"alphabetic","dx":-15,"dy":53,"fontSize":18},"encoding":{"x":{"datum":3.612,"axis":null},"y":{"datum":40},"text":{"field":"a"}}},
{"data":{"name":"info"},"transform":[{"filter":"datum.p=='R2'"}],"mark":{"type":"text","align":"right","baseline":"alphabetic","dx":-15,"dy":76,"fontSize":18},"encoding":{"x":{"datum":3.612,"axis":null},"y":{"datum":40},"text":{"field":"b"}}},
{"data":{"name":"info"},"transform":[{"filter":"datum.p=='R2'"}],"mark":{"type":"rule","xOffset":-206.4,"x2Offset":-12,"yOffset":32,"strokeWidth":1.3,"color":"black"},"encoding":{"x":{"datum":3.612,"axis":null},"x2":{"datum":3.612},"y":{"datum":40}}}
]},
{"width":400,"height":179,"layer":[
{"data":{"name":"bars"},"transform":[{"filter":"datum.p=='L3'"}],"mark":{"type":"rect","fill":"white","stroke":"black","strokeWidth":1.3},"encoding":{"x":{"field":"x0","type":"quantitative","scale":{"domain":[-0.2,3.549],"nice":false,"zero":false},"axis":null},"x2":{"field":"x1"},"y":{"field":"c","type":"quantitative","scale":{"domain":[0,160],"nice":false},"axis":{"values":[0,20,40,60,80,100,120,140],"labels":false,"title":"Concentration\u00a0\u00a0\u00a0[x10⁶m⁻³]\u00a0\u00a0\u2014⟶","titleY":47.5,"titlePadding":65,"titleFontSize":26}},"y2":{"datum":0}}},
{"data":{"name":"yticks"},"transform":[{"filter":"datum.p=='L3'"}],"mark":{"type":"text","align":"right","baseline":"middle","dx":-10,"fontSize":16},"encoding":{"x":{"datum":-0.2,"axis":null},"y":{"field":"v","type":"quantitative"},"text":{"field":"lab"}}},
{"data":{"name":"bars"},"transform":[{"filter":"datum.p=='L3' && datum.x0==0.2"}],"mark":{"type":"text","angle":270,"align":"left","baseline":"middle","dx":5,"dy":5.3,"fontSize":13},"encoding":{"x":{"field":"x0","type":"quantitative","axis":null},"y":{"field":"c","type":"quantitative"},"text":{"field":"n"}}},
{"data":{"name":"arrows"},"transform":[{"filter":"datum.p=='L3'"}],"mark":{"type":"rule","y2Offset":-36,"strokeWidth":1.5,"color":"black"},"encoding":{"x":{"field":"ax","type":"quantitative","axis":null},"y":{"field":"yb","type":"quantitative"},"y2":{"field":"yb"}}},
{"data":{"name":"arrows"},"transform":[{"filter":"datum.p=='L3'"}],"mark":{"type":"point","shape":"M-0.6,-1.1L0,0L0.6,-1.1","filled":false,"size":100,"color":"black","strokeWidth":1.5,"opacity":1},"encoding":{"x":{"field":"ax","type":"quantitative","axis":null},"y":{"field":"yb","type":"quantitative"}}},
{"data":{"name":"arrows"},"transform":[{"filter":"datum.p=='L3' && datum.k=='Da'"}],"mark":{"type":"text","align":"left","baseline":"middle","dx":3,"dy":-9,"fontSize":15},"encoding":{"x":{"field":"ax","type":"quantitative","axis":null},"y":{"field":"yb","type":"quantitative"},"text":{"field":"k"}}},
{"data":{"name":"arrows"},"transform":[{"filter":"datum.p=='L3' && datum.k=='D32'"}],"mark":{"type":"text","align":"left","baseline":"middle","dx":5,"dy":-20,"fontSize":15},"encoding":{"x":{"field":"ax","type":"quantitative","axis":null},"y":{"field":"yb","type":"quantitative"},"text":{"field":"k"}}},
{"data":{"name":"info"},"transform":[{"filter":"datum.p=='L3'"}],"mark":{"type":"text","align":"right","baseline":"alphabetic","dx":-12,"dy":26,"fontSize":22},"encoding":{"x":{"datum":3.549,"axis":null},"y":{"datum":160},"text":{"field":"t"}}},
{"data":{"name":"info"},"transform":[{"filter":"datum.p=='L3'"}],"mark":{"type":"text","align":"right","baseline":"alphabetic","dx":-15,"dy":53,"fontSize":18},"encoding":{"x":{"datum":3.549,"axis":null},"y":{"datum":160},"text":{"field":"a"}}},
{"data":{"name":"info"},"transform":[{"filter":"datum.p=='L3'"}],"mark":{"type":"text","align":"right","baseline":"alphabetic","dx":-15,"dy":76,"fontSize":18},"encoding":{"x":{"datum":3.549,"axis":null},"y":{"datum":160},"text":{"field":"b"}}},
{"data":{"name":"info"},"transform":[{"filter":"datum.p=='L3'"}],"mark":{"type":"rule","xOffset":-171,"x2Offset":-12,"yOffset":32,"strokeWidth":1.3,"color":"black"},"encoding":{"x":{"datum":3.549,"axis":null},"x2":{"datum":3.549},"y":{"datum":160}}}
]},
{"width":400,"height":179,"layer":[
{"data":{"name":"bars"},"transform":[{"filter":"datum.p=='R3'"}],"mark":{"type":"rect","fill":"white","stroke":"black","strokeWidth":1.3},"encoding":{"x":{"field":"x0","type":"quantitative","scale":{"domain":[-0.19,3.612],"nice":false,"zero":false},"axis":null},"x2":{"field":"x1"},"y":{"field":"c","type":"quantitative","scale":{"domain":[0,60],"nice":false},"axis":{"values":[0,10,20,30,40,50],"labels":false,"title":null}},"y2":{"datum":0}}},
{"data":{"name":"yticks"},"transform":[{"filter":"datum.p=='R3'"}],"mark":{"type":"text","align":"right","baseline":"middle","dx":-18,"fontSize":16},"encoding":{"x":{"datum":-0.19,"axis":null},"y":{"field":"v","type":"quantitative"},"text":{"field":"lab"}}},
{"data":{"name":"arrows"},"transform":[{"filter":"datum.p=='R3'"}],"mark":{"type":"rule","y2Offset":-36,"strokeWidth":1.5,"color":"black"},"encoding":{"x":{"field":"ax","type":"quantitative","axis":null},"y":{"field":"yb","type":"quantitative"},"y2":{"field":"yb"}}},
{"data":{"name":"arrows"},"transform":[{"filter":"datum.p=='R3'"}],"mark":{"type":"point","shape":"M-0.6,-1.1L0,0L0.6,-1.1","filled":false,"size":100,"color":"black","strokeWidth":1.5,"opacity":1},"encoding":{"x":{"field":"ax","type":"quantitative","axis":null},"y":{"field":"yb","type":"quantitative"}}},
{"data":{"name":"arrows"},"transform":[{"filter":"datum.p=='R3' && datum.k=='Da'"}],"mark":{"type":"text","align":"left","baseline":"middle","dx":3,"dy":-9,"fontSize":15,"fontStyle":"italic"},"encoding":{"x":{"field":"ax","type":"quantitative","axis":null},"y":{"field":"yb","type":"quantitative"},"text":{"field":"k"}}},
{"data":{"name":"arrows"},"transform":[{"filter":"datum.p=='R3' && datum.k=='D32'"}],"mark":{"type":"text","align":"left","baseline":"middle","dx":5,"dy":-20,"fontSize":15},"encoding":{"x":{"field":"ax","type":"quantitative","axis":null},"y":{"field":"yb","type":"quantitative"},"text":{"field":"k"}}},
{"data":{"name":"info"},"transform":[{"filter":"datum.p=='R3'"}],"mark":{"type":"text","align":"right","baseline":"alphabetic","dx":-12,"dy":26,"fontSize":22},"encoding":{"x":{"datum":3.612,"axis":null},"y":{"datum":60},"text":{"field":"t"}}},
{"data":{"name":"info"},"transform":[{"filter":"datum.p=='R3'"}],"mark":{"type":"text","align":"right","baseline":"alphabetic","dx":-15,"dy":53,"fontSize":18},"encoding":{"x":{"datum":3.612,"axis":null},"y":{"datum":60},"text":{"field":"a"}}},
{"data":{"name":"info"},"transform":[{"filter":"datum.p=='R3'"}],"mark":{"type":"text","align":"right","baseline":"alphabetic","dx":-15,"dy":76,"fontSize":18},"encoding":{"x":{"datum":3.612,"axis":null},"y":{"datum":60},"text":{"field":"b"}}},
{"data":{"name":"info"},"transform":[{"filter":"datum.p=='R3'"}],"mark":{"type":"rule","xOffset":-218.3,"x2Offset":-12,"yOffset":32,"strokeWidth":1.3,"color":"black"},"encoding":{"x":{"datum":3.612,"axis":null},"x2":{"datum":3.612},"y":{"datum":60}}}
]},
{"width":400,"height":179,"layer":[
{"data":{"name":"bars"},"transform":[{"filter":"datum.p=='L4'"}],"mark":{"type":"rect","fill":"white","stroke":"black","strokeWidth":1.3},"encoding":{"x":{"field":"x0","type":"quantitative","scale":{"domain":[-0.2,3.549],"nice":false,"zero":false},"axis":null},"x2":{"field":"x1"},"y":{"field":"c","type":"quantitative","scale":{"domain":[0,160],"nice":false},"axis":{"values":[0,20,40,60,80,100,120,140],"labels":false,"title":null}},"y2":{"datum":0}}},
{"data":{"name":"yticks"},"transform":[{"filter":"datum.p=='L4'"}],"mark":{"type":"text","align":"right","baseline":"middle","dx":-10,"fontSize":16},"encoding":{"x":{"datum":-0.2,"axis":null},"y":{"field":"v","type":"quantitative"},"text":{"field":"lab"}}},
{"data":{"name":"bars"},"transform":[{"filter":"datum.p=='L4' && datum.x0==0.1"}],"mark":{"type":"text","angle":270,"align":"left","baseline":"middle","dx":12,"dy":1,"fontSize":13},"encoding":{"x":{"field":"x0","type":"quantitative","axis":null},"y":{"field":"c","type":"quantitative"},"text":{"field":"n"}}},
{"data":{"name":"bars"},"transform":[{"filter":"datum.p=='L4' && datum.x0==0.2"}],"mark":{"type":"text","angle":270,"align":"left","baseline":"middle","dx":12,"dy":1,"fontSize":13},"encoding":{"x":{"field":"x1","type":"quantitative","axis":null},"y":{"field":"c","type":"quantitative"},"text":{"field":"n"}}},
{"data":{"name":"arrows"},"transform":[{"filter":"datum.p=='L4'"}],"mark":{"type":"rule","y2Offset":-36,"strokeWidth":1.5,"color":"black"},"encoding":{"x":{"field":"ax","type":"quantitative","axis":null},"y":{"field":"yb","type":"quantitative"},"y2":{"field":"yb"}}},
{"data":{"name":"arrows"},"transform":[{"filter":"datum.p=='L4'"}],"mark":{"type":"point","shape":"M-0.6,-1.1L0,0L0.6,-1.1","filled":false,"size":100,"color":"black","strokeWidth":1.5,"opacity":1},"encoding":{"x":{"field":"ax","type":"quantitative","axis":null},"y":{"field":"yb","type":"quantitative"}}},
{"data":{"name":"arrows"},"transform":[{"filter":"datum.p=='L4' && datum.k=='Da'"}],"mark":{"type":"text","align":"left","baseline":"middle","dx":3,"dy":-9,"fontSize":15},"encoding":{"x":{"field":"ax","type":"quantitative","axis":null},"y":{"field":"yb","type":"quantitative"},"text":{"field":"k"}}},
{"data":{"name":"arrows"},"transform":[{"filter":"datum.p=='L4' && datum.k=='D32'"}],"mark":{"type":"text","align":"left","baseline":"middle","dx":5,"dy":-20,"fontSize":15},"encoding":{"x":{"field":"ax","type":"quantitative","axis":null},"y":{"field":"yb","type":"quantitative"},"text":{"field":"k"}}},
{"data":{"name":"info"},"transform":[{"filter":"datum.p=='L4'"}],"mark":{"type":"text","align":"right","baseline":"alphabetic","dx":-12,"dy":26,"fontSize":22},"encoding":{"x":{"datum":3.549,"axis":null},"y":{"datum":160},"text":{"field":"t"}}},
{"data":{"name":"info"},"transform":[{"filter":"datum.p=='L4'"}],"mark":{"type":"text","align":"right","baseline":"alphabetic","dx":-15,"dy":53,"fontSize":18},"encoding":{"x":{"datum":3.549,"axis":null},"y":{"datum":160},"text":{"field":"a"}}},
{"data":{"name":"info"},"transform":[{"filter":"datum.p=='L4'"}],"mark":{"type":"text","align":"right","baseline":"alphabetic","dx":-15,"dy":76,"fontSize":18},"encoding":{"x":{"datum":3.549,"axis":null},"y":{"datum":160},"text":{"field":"b"}}},
{"data":{"name":"info"},"transform":[{"filter":"datum.p=='L4'"}],"mark":{"type":"rule","xOffset":-202.7,"x2Offset":-12,"yOffset":32,"strokeWidth":1.3,"color":"black"},"encoding":{"x":{"datum":3.549,"axis":null},"x2":{"datum":3.549},"y":{"datum":160}}}
]},
{"width":400,"height":179,"layer":[
{"data":{"name":"bars"},"transform":[{"filter":"datum.p=='R4'"}],"mark":{"type":"rect","fill":"white","stroke":"black","strokeWidth":1.3},"encoding":{"x":{"field":"x0","type":"quantitative","scale":{"domain":[-0.19,3.612],"nice":false,"zero":false},"axis":null},"x2":{"field":"x1"},"y":{"field":"c","type":"quantitative","scale":{"domain":[0,82],"nice":false},"axis":{"values":[0,10,20,30,40,50,60,70],"labels":false,"title":null}},"y2":{"datum":0}}},
{"data":{"name":"yticks"},"transform":[{"filter":"datum.p=='R4'"}],"mark":{"type":"text","align":"right","baseline":"middle","dx":-18,"fontSize":16},"encoding":{"x":{"datum":-0.19,"axis":null},"y":{"field":"v","type":"quantitative"},"text":{"field":"lab"}}},
{"data":{"name":"bars"},"transform":[{"filter":"datum.p=='R4' && datum.x0==0.1"}],"mark":{"type":"text","angle":270,"align":"left","baseline":"middle","dx":6,"dy":2,"fontSize":13},"encoding":{"x":{"field":"x0","type":"quantitative","axis":null},"y":{"field":"c","type":"quantitative"},"text":{"field":"n"}}},
{"data":{"name":"bars"},"transform":[{"filter":"datum.p=='R4' && datum.x0==0.2"}],"mark":{"type":"text","angle":270,"align":"left","baseline":"middle","dx":6,"dy":2,"fontSize":13},"encoding":{"x":{"field":"x1","type":"quantitative","axis":null},"y":{"field":"c","type":"quantitative"},"text":{"field":"n"}}},
{"data":{"name":"arrows"},"transform":[{"filter":"datum.p=='R4'"}],"mark":{"type":"rule","y2Offset":-36,"strokeWidth":1.5,"color":"black"},"encoding":{"x":{"field":"ax","type":"quantitative","axis":null},"y":{"field":"yb","type":"quantitative"},"y2":{"field":"yb"}}},
{"data":{"name":"arrows"},"transform":[{"filter":"datum.p=='R4'"}],"mark":{"type":"point","shape":"M-0.6,-1.1L0,0L0.6,-1.1","filled":false,"size":100,"color":"black","strokeWidth":1.5,"opacity":1},"encoding":{"x":{"field":"ax","type":"quantitative","axis":null},"y":{"field":"yb","type":"quantitative"}}},
{"data":{"name":"arrows"},"transform":[{"filter":"datum.p=='R4' && datum.k=='Da'"}],"mark":{"type":"text","align":"left","baseline":"middle","dx":3,"dy":-9,"fontSize":15},"encoding":{"x":{"field":"ax","type":"quantitative","axis":null},"y":{"field":"yb","type":"quantitative"},"text":{"field":"k"}}},
{"data":{"name":"arrows"},"transform":[{"filter":"datum.p=='R4' && datum.k=='D32'"}],"mark":{"type":"text","align":"left","baseline":"middle","dx":5,"dy":-20,"fontSize":15},"encoding":{"x":{"field":"ax","type":"quantitative","axis":null},"y":{"field":"yb","type":"quantitative"},"text":{"field":"k"}}},
{"data":{"name":"info"},"transform":[{"filter":"datum.p=='R4'"}],"mark":{"type":"text","align":"right","baseline":"alphabetic","dx":-12,"dy":26,"fontSize":22},"encoding":{"x":{"datum":3.612,"axis":null},"y":{"datum":82},"text":{"field":"t"}}},
{"data":{"name":"info"},"transform":[{"filter":"datum.p=='R4'"}],"mark":{"type":"text","align":"right","baseline":"alphabetic","dx":-15,"dy":53,"fontSize":18},"encoding":{"x":{"datum":3.612,"axis":null},"y":{"datum":82},"text":{"field":"a"}}},
{"data":{"name":"info"},"transform":[{"filter":"datum.p=='R4'"}],"mark":{"type":"text","align":"right","baseline":"alphabetic","dx":-15,"dy":76,"fontSize":18},"encoding":{"x":{"datum":3.612,"axis":null},"y":{"datum":82},"text":{"field":"b"}}},
{"data":{"name":"info"},"transform":[{"filter":"datum.p=='R4'"}],"mark":{"type":"rule","xOffset":-171,"x2Offset":-12,"yOffset":32,"strokeWidth":1.3,"color":"black"},"encoding":{"x":{"datum":3.612,"axis":null},"x2":{"datum":3.612},"y":{"datum":82}}}
]},
{"width":400,"height":179,"layer":[
{"data":{"name":"bars"},"transform":[{"filter":"datum.p=='L5'"}],"mark":{"type":"rect","fill":"white","stroke":"black","strokeWidth":1.3},"encoding":{"x":{"field":"x0","type":"quantitative","scale":{"domain":[-0.0419,3.311],"nice":false,"zero":false},"axis":{"values":[0,0.5,1,1.5,2,2.5,3],"labelExpr":"['0','0.5','1','1.5','2.5','3','3.5'][round(datum.value*2)]","title":"Diameter\u00a0\u00a0[mm]\u00a0\u00a0\u2014⟶","titleX":121,"titleAlign":"left","titlePadding":14,"labelOverlap":false}},"x2":{"field":"x1"},"y":{"field":"c","type":"quantitative","scale":{"domain":[0,160],"nice":false},"axis":{"values":[0,20,40,60,80,100,120,140],"labels":false,"title":null}},"y2":{"datum":0}}},
{"data":{"name":"yticks"},"transform":[{"filter":"datum.p=='L5'"}],"mark":{"type":"text","align":"right","baseline":"middle","dx":-10,"fontSize":16},"encoding":{"x":{"datum":-0.0419},"y":{"field":"v","type":"quantitative"},"text":{"field":"lab"}}},
{"data":{"name":"bars"},"transform":[{"filter":"datum.p=='L5' && datum.x0==0.25"}],"mark":{"type":"text","angle":270,"align":"left","baseline":"middle","dx":3,"dy":2,"fontSize":13},"encoding":{"x":{"field":"x0","type":"quantitative"},"y":{"field":"c","type":"quantitative"},"text":{"field":"n"}}},
{"data":{"name":"bars"},"transform":[{"filter":"datum.p=='L5' && datum.x0==0.35"}],"mark":{"type":"text","angle":270,"align":"left","baseline":"middle","dx":3,"dy":0,"fontSize":13},"encoding":{"x":{"field":"x1","type":"quantitative"},"y":{"field":"c","type":"quantitative"},"text":{"field":"n"}}},
{"data":{"name":"arrows"},"transform":[{"filter":"datum.p=='L5'"}],"mark":{"type":"rule","y2Offset":-36,"strokeWidth":1.5,"color":"black"},"encoding":{"x":{"field":"ax","type":"quantitative"},"y":{"field":"yb","type":"quantitative"},"y2":{"field":"yb"}}},
{"data":{"name":"arrows"},"transform":[{"filter":"datum.p=='L5'"}],"mark":{"type":"point","shape":"M-0.6,-1.1L0,0L0.6,-1.1","filled":false,"size":100,"color":"black","strokeWidth":1.5,"opacity":1},"encoding":{"x":{"field":"ax","type":"quantitative"},"y":{"field":"yb","type":"quantitative"}}},
{"data":{"name":"arrows"},"transform":[{"filter":"datum.p=='L5' && datum.k=='Da'"}],"mark":{"type":"text","align":"left","baseline":"middle","dx":3,"dy":-9,"fontSize":15},"encoding":{"x":{"field":"ax","type":"quantitative"},"y":{"field":"yb","type":"quantitative"},"text":{"field":"k"}}},
{"data":{"name":"arrows"},"transform":[{"filter":"datum.p=='L5' && datum.k=='D32'"}],"mark":{"type":"text","align":"left","baseline":"middle","dx":5,"dy":-20,"fontSize":15},"encoding":{"x":{"field":"ax","type":"quantitative"},"y":{"field":"yb","type":"quantitative"},"text":{"field":"k"}}},
{"data":{"name":"info"},"transform":[{"filter":"datum.p=='L5'"}],"mark":{"type":"text","align":"right","baseline":"alphabetic","dx":-12,"dy":26,"fontSize":22},"encoding":{"x":{"datum":3.311},"y":{"datum":160},"text":{"field":"t"}}},
{"data":{"name":"info"},"transform":[{"filter":"datum.p=='L5'"}],"mark":{"type":"text","align":"right","baseline":"alphabetic","dx":-15,"dy":53,"fontSize":18},"encoding":{"x":{"datum":3.311},"y":{"datum":160},"text":{"field":"a"}}},
{"data":{"name":"info"},"transform":[{"filter":"datum.p=='L5'"}],"mark":{"type":"text","align":"right","baseline":"alphabetic","dx":-15,"dy":76,"fontSize":18},"encoding":{"x":{"datum":3.311},"y":{"datum":160},"text":{"field":"b"}}},
{"data":{"name":"info"},"transform":[{"filter":"datum.p=='L5'"}],"mark":{"type":"rule","xOffset":-182.9,"x2Offset":-12,"yOffset":32,"strokeWidth":1.3,"color":"black"},"encoding":{"x":{"datum":3.311},"x2":{"datum":3.311},"y":{"datum":160}}}
]},
{"width":400,"height":179,"layer":[
{"data":{"name":"bars"},"transform":[{"filter":"datum.p=='R5'"}],"mark":{"type":"rect","fill":"white","stroke":"black","strokeWidth":1.3},"encoding":{"x":{"field":"x0","type":"quantitative","scale":{"domain":[-0.19,3.612],"nice":false,"zero":false},"axis":{"values":[0,0.5,1,1.5,2,2.5,3,3.5],"labelExpr":"['0','0.5','1','1.5','2','2.5','3','3.5'][round(datum.value*2)]","title":"Diameter\u00a0\u00a0[mm]\u00a0\u00a0\u2014⟶","titleX":118,"titleAlign":"left","titlePadding":14,"labelOverlap":false}},"x2":{"field":"x1"},"y":{"field":"c","type":"quantitative","scale":{"domain":[0,80],"nice":false},"axis":{"values":[0,10,20,30,40,50,60,70],"labels":false,"title":null}},"y2":{"datum":0}}},
{"data":{"name":"yticks"},"transform":[{"filter":"datum.p=='R5'"}],"mark":{"type":"text","align":"right","baseline":"middle","dx":-18,"fontSize":16},"encoding":{"x":{"datum":-0.19},"y":{"field":"v","type":"quantitative"},"text":{"field":"lab"}}},
{"data":{"name":"bars"},"transform":[{"filter":"datum.p=='R5' && datum.x0==0.1"}],"mark":{"type":"text","angle":270,"align":"left","baseline":"middle","dx":6,"dy":3,"fontSize":13},"encoding":{"x":{"field":"x0","type":"quantitative"},"y":{"field":"c","type":"quantitative"},"text":{"field":"n"}}},
{"data":{"name":"bars"},"transform":[{"filter":"datum.p=='R5' && datum.x0==0.2"}],"mark":{"type":"text","angle":270,"align":"left","baseline":"middle","dx":6,"dy":3,"fontSize":13},"encoding":{"x":{"field":"x1","type":"quantitative"},"y":{"field":"c","type":"quantitative"},"text":{"field":"n"}}},
{"data":{"name":"arrows"},"transform":[{"filter":"datum.p=='R5'"}],"mark":{"type":"rule","y2Offset":-36,"strokeWidth":1.5,"color":"black"},"encoding":{"x":{"field":"ax","type":"quantitative"},"y":{"field":"yb","type":"quantitative"},"y2":{"field":"yb"}}},
{"data":{"name":"arrows"},"transform":[{"filter":"datum.p=='R5'"}],"mark":{"type":"point","shape":"M-0.6,-1.1L0,0L0.6,-1.1","filled":false,"size":100,"color":"black","strokeWidth":1.5,"opacity":1},"encoding":{"x":{"field":"ax","type":"quantitative"},"y":{"field":"yb","type":"quantitative"}}},
{"data":{"name":"arrows"},"transform":[{"filter":"datum.p=='R5' && datum.k=='Da'"}],"mark":{"type":"text","align":"left","baseline":"middle","dx":3,"dy":-9,"fontSize":15},"encoding":{"x":{"field":"ax","type":"quantitative"},"y":{"field":"yb","type":"quantitative"},"text":{"field":"k"}}},
{"data":{"name":"arrows"},"transform":[{"filter":"datum.p=='R5' && datum.k=='D32'"}],"mark":{"type":"text","align":"left","baseline":"middle","dx":5,"dy":-20,"fontSize":15},"encoding":{"x":{"field":"ax","type":"quantitative"},"y":{"field":"yb","type":"quantitative"},"text":{"field":"k"}}},
{"data":{"name":"info"},"transform":[{"filter":"datum.p=='R5'"}],"mark":{"type":"text","align":"right","baseline":"alphabetic","dx":-12,"dy":26,"fontSize":22},"encoding":{"x":{"datum":3.612},"y":{"datum":80},"text":{"field":"t"}}},
{"data":{"name":"info"},"transform":[{"filter":"datum.p=='R5'"}],"mark":{"type":"text","align":"right","baseline":"alphabetic","dx":-15,"dy":53,"fontSize":18},"encoding":{"x":{"datum":3.612},"y":{"datum":80},"text":{"field":"a"}}},
{"data":{"name":"info"},"transform":[{"filter":"datum.p=='R5'"}],"mark":{"type":"text","align":"right","baseline":"alphabetic","dx":-15,"dy":76,"fontSize":18},"encoding":{"x":{"datum":3.612},"y":{"datum":80},"text":{"field":"b"}}},
{"data":{"name":"info"},"transform":[{"filter":"datum.p=='R5'"}],"mark":{"type":"rule","xOffset":-182.9,"x2Offset":-12,"yOffset":32,"strokeWidth":1.3,"color":"black"},"encoding":{"x":{"datum":3.612},"x2":{"datum":3.612},"y":{"datum":80}}}
]}
]
}
